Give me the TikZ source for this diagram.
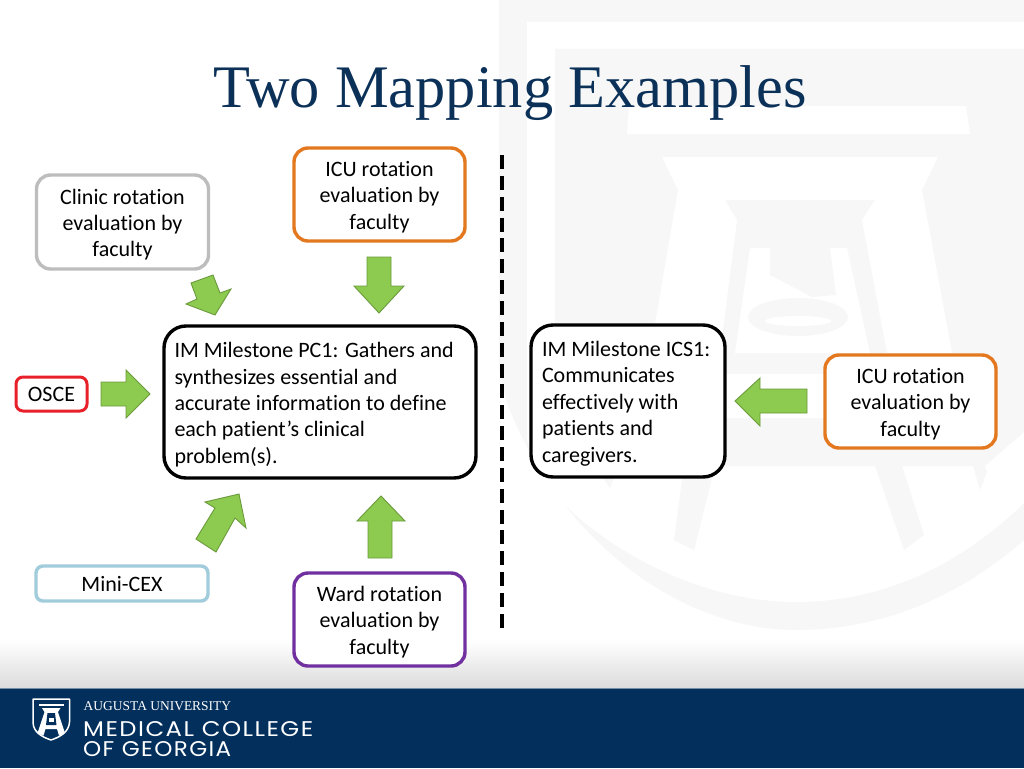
\documentclass[tikz,border=0pt]{standalone}
\usepackage{fontspec}
\setmainfont[Ligatures=NoCommon]{Carlito}
\newfontfamily\titlefont{Liberation Serif}
\newfontfamily\logosans[LetterSpace=6]{Poppins}
\usetikzlibrary{shapes.misc}
\definecolor{wm}{HTML}{F7F7F7}
\definecolor{navy}{HTML}{032F5C}
\definecolor{titleblue}{HTML}{0C3158}
\definecolor{arrowgreen}{HTML}{8CCB4F}
\definecolor{arrowedge}{HTML}{6B9A3C}
\definecolor{oran}{HTML}{E3781F}
\definecolor{greybox}{HTML}{BDBDBD}
\definecolor{redbox}{HTML}{E8202A}
\definecolor{bluebox}{HTML}{A0CCDC}
\definecolor{purp}{HTML}{7030A0}
\newcommand{\tstrut}{\rule{0pt}{20.5pt}}
\tikzset{
  x=1pt,y=-1pt,
  wmgrey/.style={fill=wm,draw=none},
  wmwhite/.style={fill=white,draw=none},
  blockarrow/.style={fill=arrowgreen,draw=arrowedge,line width=0.9pt,line join=miter},
  softbox/.style={rounded corners=14pt,fill=white,draw,line width=3.4pt,inner sep=0pt,align=center,font=\fontsize{22}{26.4}\selectfont},
  smallbox/.style={softbox,rounded corners=7pt},
  milestone/.style={softbox,draw=black,rounded corners=22pt,line width=3.4pt,align=flush left},
  logotext/.style={anchor=west,inner sep=0pt,text=white}
}
\begin{document}
\begin{tikzpicture}
\useasboundingbox (0,0) rectangle (1024,768);
% page and watermark
\fill[white] (0,0) rectangle (1024,768);
\path[wmgrey] (499,0) -- (1024,0) -- (1024,540) .. controls (950,605) and (870,630) .. (796,630) .. controls (680,630) and (560,540) .. (507,403) -- (499,370) -- cycle;
\path[wmwhite] (527,22) -- (1024,22) -- (1024,503) .. controls (950,575) and (870,602) .. (796,602) .. controls (700,602) and (600,550) .. (541,480) -- (527,440) -- cycle;
\path[wmgrey] (555,49) -- (1024,49) -- (1024,432) -- (985,466) -- (987,472) -- (980,490) -- (973,466) -- (618,466) -- (610,488) -- (590,460) .. controls (570,440) and (555,420) .. (555,400) -- cycle;
\path[wmgrey] (684,466) -- (715,466) -- (694,550) -- (674,540) -- cycle;
\path[wmgrey] (875,466) -- (902,466) -- (924,535) -- (904,550) -- cycle;
\path[wmwhite] (629,106) -- (966,106) -- (970,134) -- (627,134) -- cycle;
\path[wmwhite] (662,157) -- (938,157) -- (922,190) -- (952,353) -- (887,353) -- (862,220) -- (875,200) -- (725,200) -- (737,220) -- (720,353) -- (650,353) -- (678,190) -- cycle;
\path[wmwhite] (750,248) -- (847,248) -- (870,353) -- (735,353) -- cycle;
\path[wmgrey] (770,248) -- (830,248) -- (836,295) -- (812,297) -- (770,275) -- cycle;
\path[wmgrey] (798,317) ellipse [x radius=50pt,y radius=19pt];
\path[wmwhite] (798,321) ellipse [x radius=33pt,y radius=5pt];
\path[wmwhite] (640,374) rectangle (965,418);
% footer
\shade[top color=white,bottom color=white!86!black!100] (0,640) rectangle (1024,688);
\fill[navy] (0,689) rectangle (1024,768);
\fill[navy!55!white] (0,688) rectangle (1024,689.3);
% logo
\draw[white,line width=1.5pt,line join=round] (33,699) -- (69.5,699) -- (69.5,722) .. controls (69,732) and (60,737) .. (51,740) .. controls (42,737) and (33,732) .. (33,722) -- cycle;
\fill[white] (39,704) rectangle (63.5,706.2);
\fill[white] (42,708) -- (60.5,708) -- (58,712) -- (65,733) -- (59,735.5) -- (57,729) -- (45.5,729) -- (43.5,735.5) -- (37.5,733) -- (44.5,712) -- cycle;
\fill[navy] (47.5,713) -- (55,713) -- (56.5,725) -- (46,725) -- cycle;
\fill[white] (48.5,717.5) rectangle (53.5,722);
\node[logotext] (au) at (83.5,706.5) {\resizebox{147.5pt}{!}{\titlefont AUGUSTA UNIVERSITY}};
\node[logotext] (mc) at (83,729.5) {\resizebox{230pt}{15pt}{\logosans MEDICAL COLLEGE}};
\node[logotext] (ga) at (83,749.5) {\resizebox{148pt}{15pt}{\logosans OF GEORGIA}};
% title
\node[font=\titlefont\fontsize{60.4}{70}\selectfont,text=titleblue,inner sep=0pt,anchor=base] (title) at (510,107) {Two Mapping Examples};
% divider
\coordinate (d1) at (502,155);
\coordinate (d2) at (502,628);
\draw[black,line width=3.4pt,dash pattern=on 14pt off 6.86pt] (d1) -- (d2);
% boxes
\node[softbox,draw=greybox,minimum width=172pt,minimum height=94pt] (clinic) at (122.5,222) {\tstrut Clinic rotation\\evaluation by\\faculty};
\node[softbox,draw=oran,minimum width=171pt,minimum height=93pt] (icu) at (379.5,194.5) {\tstrut ICU rotation\\evaluation by\\faculty};
\node[smallbox,draw=redbox,line width=3pt,minimum width=71pt,minimum height=34pt] (osce) at (51.5,394) {OSCE};
\node[milestone,minimum width=312pt,minimum height=152pt,text width=291pt] (pc) at (320,402) {\tstrut IM Milestone PC1: Gathers and\\synthesizes essential and\\accurate information to define\\each patient’s clinical\\problem(s).};
\node[milestone,minimum width=194pt,minimum height=152pt,text width=172pt] (ics) at (628,401) {\tstrut IM Milestone ICS1:\\Communicates\\effectively with\\patients and\\caregivers.};
\node[softbox,draw=oran,minimum width=171pt,minimum height=93pt] (icur) at (910.5,401.5) {\tstrut ICU rotation\\evaluation by\\faculty};
\node[smallbox,draw=bluebox,minimum width=172pt,minimum height=35pt] (mini) at (122,583.5) {Mini-CEX};
\node[softbox,draw=purp,minimum width=171pt,minimum height=93pt] (ward) at (379.5,619.5) {\tstrut Ward rotation\\evaluation by\\faculty};
% block arrows
\draw[blockarrow] (191,283) -- (213,275) -- (220,293) -- (231,289) -- (215,315) -- (186,304) -- (197,299) -- cycle;
\draw[blockarrow] (367,257) -- (391,257) -- (391,286) -- (404,286) -- (379,313) -- (354,286) -- (367,286) -- cycle;
\draw[blockarrow] (101,382) -- (126,382) -- (126,370) -- (150,394) -- (126,418) -- (126,406) -- (101,406) -- cycle;
\draw[blockarrow] (239,494) -- (246,528) -- (235,518) -- (216,552) -- (196,539) -- (215,508) -- (205,502) -- cycle;
\draw[blockarrow] (381,496) -- (405,521) -- (392,521) -- (392,558) -- (368,558) -- (368,521) -- (357,521) -- cycle;
\draw[blockarrow] (735,401) -- (760,378) -- (760,389) -- (807,389) -- (807,413) -- (760,413) -- (760,426) -- cycle;
\end{tikzpicture}
\end{document}
